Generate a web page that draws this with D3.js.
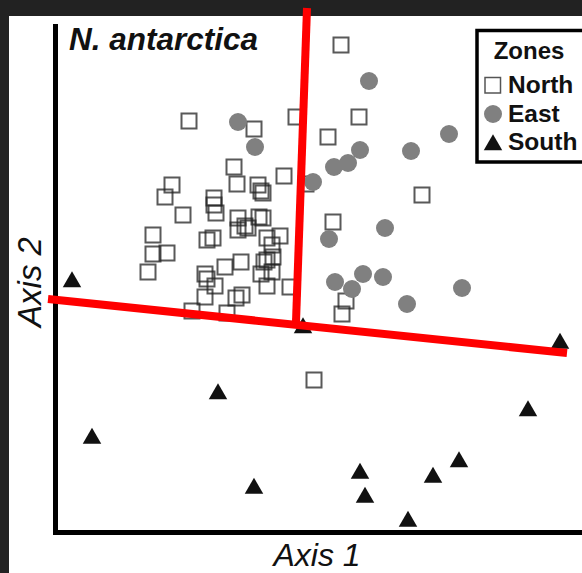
<!DOCTYPE html>
<html>
<head>
<meta charset="utf-8">
<script src="https://cdn.jsdelivr.net/npm/d3@7"></script>
<style>
  html, body { margin: 0; padding: 0; background: #222; }
  svg { display: block; }
  text { font-family: "Liberation Sans", Arial, Helvetica, sans-serif; }
</style>
</head>
<body>
<svg id="chart" width="582" height="573"></svg>
<script>
// ---- Data (ordination scores) ----
const zones = ["North", "East", "South"];

const northX = [57.2,48.2,60.8,54.6,26.8,39.8,35.8,36.4,45.8,50.2,23.4,22.0,40.6,41.2,41.6,31.8,31.8,32.2,25.6,19.6,19.6,22.4,18.6,30.4,31.6,36.6,38.0,38.6,36.6,40.8,41.6,42.4,45.0,43.4,37.2,34.0,30.0,30.4,32.0,30.0,27.4,34.4,36.2,37.4,42.4,43.6,41.8,43.4,41.2,42.4,47.0,73.4,55.6,58.2,57.4,51.8];
const northY = [97.4,83.0,83.0,79.0,82.2,80.6,73.0,69.6,71.2,69.6,69.4,67.0,69.4,68.2,67.8,66.8,65.4,63.8,63.4,59.4,55.6,55.8,52.0,58.4,58.8,62.8,61.2,60.8,60.4,63.0,62.8,58.8,59.2,57.4,54.0,53.0,51.6,50.6,49.2,47.0,44.2,43.8,46.8,47.4,54.4,55.0,54.0,52.0,51.6,49.2,49.0,67.4,62.0,46.2,43.6,30.4];

const eastX = [36.6,40.0,62.8,78.8,71.2,61.0,58.6,55.8,51.6,66.0,54.8,61.6,65.6,56.0,59.4,70.4,81.4];
const eastY = [82.0,77.0,90.2,79.6,76.2,76.4,73.8,73.0,70.0,60.8,58.6,51.6,51.0,50.0,48.6,45.6,48.8];

const southX = [3.4,32.6,7.4,39.8,101.0,94.6,80.8,75.6,61.0,62.0,70.6,49.6];
const southY = [50.0,27.6,18.7,8.7,37.7,24.2,14.0,10.9,11.7,6.9,2.1,40.8];

// Two red dividing lines (start/end in axis units)
const lineVX = [50.4, 48.2];
const lineVY = [104.8, 42.0];
const lineHX = [-1.4, 102.4];
const lineHY = [46.6, 35.8];

const titleText = "N. antarctica";
const xLabel = "Axis 1";
const yLabel = "Axis 2";
const legendTitle = "Zones";

// ---- Layout ----
const W = 582, H = 573;
const svg = d3.select("#chart");

const x = d3.scaleLinear().domain([0, 105.4]).range([55, 582]);
const y = d3.scaleLinear().domain([0, 101.2]).range([532, 26]);

// frame
svg.append("rect").attr("x", 0).attr("y", 0).attr("width", W).attr("height", H).attr("fill", "#222");
svg.append("rect").attr("x", 9).attr("y", 16).attr("width", W - 9).attr("height", H - 16).attr("fill", "#ffffff");

const north = northX.map((v, i) => ({x: v, y: northY[i]}));
const east = eastX.map((v, i) => ({x: v, y: eastY[i]}));
const south = southX.map((v, i) => ({x: v, y: southY[i]}));

// squares
svg.append("g").selectAll("rect").data(north).join("rect")
  .attr("x", d => x(d.x) - 7.5).attr("y", d => y(d.y) - 7.5)
  .attr("width", 15).attr("height", 15)
  .attr("fill", "none").attr("stroke", "#222").attr("stroke-opacity", 0.75).attr("stroke-width", 2);

// circles
svg.append("g").selectAll("circle").data(east).join("circle")
  .attr("cx", d => x(d.x)).attr("cy", d => y(d.y)).attr("r", 9)
  .attr("fill", "#808080");

// triangles
const tri = d3.symbol(d3.symbolTriangle, 148);
svg.append("g").selectAll("path").data(south).join("path")
  .attr("transform", d => `translate(${x(d.x)},${y(d.y)})`)
  .attr("d", tri).attr("fill", "#111");

// axes
const gx = svg.append("g").attr("transform", "translate(0,532)")
  .call(d3.axisBottom(x).tickValues([]).tickSizeOuter(0));
const gy = svg.append("g").attr("transform", "translate(55,0)")
  .call(d3.axisLeft(y).tickValues([]).tickSizeOuter(0));
[gx, gy].forEach(g => g.select(".domain")
  .attr("stroke", "#000").attr("stroke-width", 5).attr("stroke-linecap", "square"));

// red lines
const lineGen = d3.line().x(d => x(d[0])).y(d => y(d[1]));
svg.append("path").datum(lineVX.map((v, i) => [v, lineVY[i]]))
  .attr("d", lineGen).attr("stroke", "#ff0000").attr("stroke-width", 8).attr("fill", "none");
svg.append("path").datum(lineHX.map((v, i) => [v, lineHY[i]]))
  .attr("d", lineGen).attr("stroke", "#ff0000").attr("stroke-width", 8).attr("fill", "none");

// title
svg.append("text").attr("x", 69).attr("y", 50)
  .attr("font-size", 31.5).attr("font-weight", "bold").attr("font-style", "italic")
  .attr("fill", "#111").text(titleText);

// axis labels
svg.append("text").attr("x", 317).attr("y", 566).attr("text-anchor", "middle")
  .attr("font-size", 32).attr("font-style", "italic").attr("fill", "#111").text(xLabel);
svg.append("text").attr("transform", "translate(41,282) rotate(-90)").attr("text-anchor", "middle")
  .attr("font-size", 33).attr("font-style", "italic").attr("fill", "#111").text(yLabel);

// legend
const lg = svg.append("g");
lg.append("rect").attr("x", 477).attr("y", 30.5).attr("width", 200).attr("height", 131.5)
  .attr("fill", "#fff").attr("stroke", "#000").attr("stroke-width", 3.5);
lg.append("text").attr("x", 529).attr("y", 59).attr("text-anchor", "middle")
  .attr("font-size", 24).attr("font-weight", "bold").attr("fill", "#111").text(legendTitle);
const rowY = d3.scalePoint().domain(zones).range([93, 150]);
zones.forEach(z => {
  const ty = rowY(z);
  const cy = ty - 7.5;
  if (z === "North") {
    lg.append("rect").attr("x", 485).attr("y", cy - 8).attr("width", 15.5).attr("height", 15.5)
      .attr("fill", "#fff").attr("stroke", "#555").attr("stroke-width", 1.5);
  } else if (z === "East") {
    lg.append("circle").attr("cx", 493).attr("cy", cy).attr("r", 9).attr("fill", "#808080");
  } else {
    lg.append("path").attr("transform", `translate(493,${cy + 2.5})`).attr("d", tri).attr("fill", "#111");
  }
  lg.append("text").attr("x", 508).attr("y", ty).attr("font-size", 24.5).attr("font-weight", "bold")
    .attr("fill", "#111").text(z);
});
</script>
</body>
</html>
